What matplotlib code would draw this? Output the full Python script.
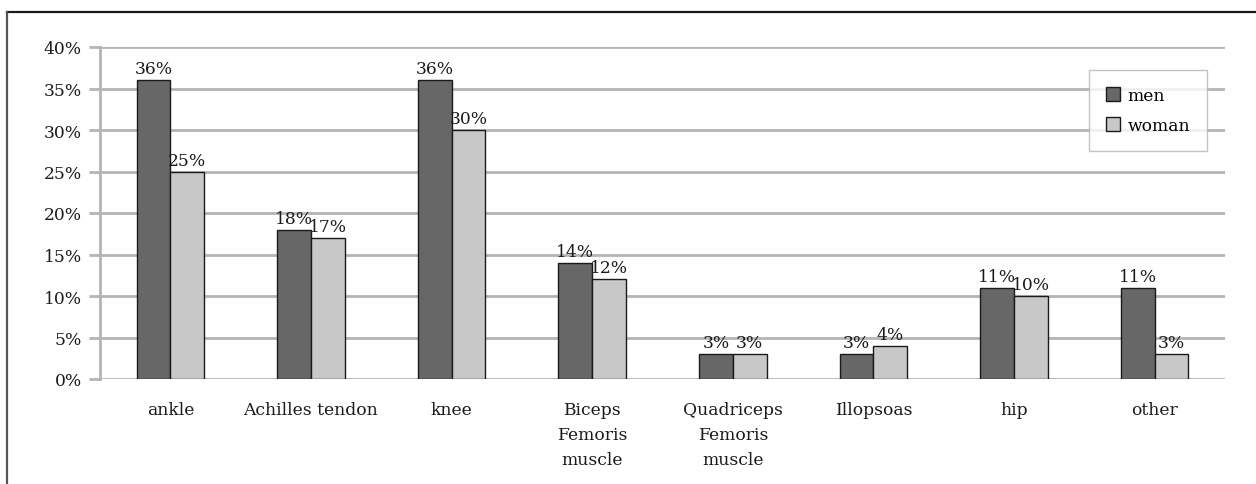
import matplotlib.pyplot as plt
import numpy as np
from matplotlib.lines import Line2D

categories = ['ankle', 'Achilles tendon', 'knee', 'Biceps\nFemoris\nmuscle',
              'Quadriceps\nFemoris\nmuscle', 'Illopsoas', 'hip', 'other']
men = [36, 18, 36, 14, 3, 3, 11, 11]
woman = [25, 17, 30, 12, 3, 4, 10, 3]
yticks = [0, 5, 10, 15, 20, 25, 30, 35, 40]

plt.rcParams['font.family'] = ['DejaVu Serif']
fs = 12.3

fig = plt.figure(figsize=(12.56, 4.85), dpi=100)
ax = fig.add_axes([100 / 1256, 1 - 380 / 485, 1125 / 1256, 332 / 485])

x = np.arange(len(categories))
w = 0.24
b1 = ax.bar(x - w / 2, men, w, color='#676767', edgecolor='#1a1a1a', linewidth=1, label='men', zorder=3)
b2 = ax.bar(x + w / 2, woman, w, color='#c8c8c8', edgecolor='#1a1a1a', linewidth=1, label='woman', zorder=3)

for bars, vals in ((b1, men), (b2, woman)):
    for r, v in zip(bars, vals):
        ax.text(r.get_x() + r.get_width() / 2, v + 0.35, '%d%%' % v,
                ha='center', va='bottom', fontsize=fs, color='#1a1a1a')

ax.set_xlim(-0.5, len(categories) - 0.5)
ax.set_ylim(0, 40)
ax.set_yticks(yticks)
ax.set_yticklabels(['%d%%' % t for t in yticks], fontsize=fs, color='#1a1a1a')
ax.set_xticks(x)
ax.set_xticklabels(categories, fontsize=fs, color='#1a1a1a', linespacing=1.6, va='top')
ax.tick_params(axis='x', length=0, pad=16)
ax.tick_params(axis='y', length=8, width=2, color='#b4b4b4', pad=5)

ax.yaxis.grid(True, color='#b4b4b4', linewidth=2)
ax.set_axisbelow(True)
for s in ['top', 'right', 'bottom']:
    ax.spines[s].set_visible(False)
ax.spines['left'].set_color('#b4b4b4')
ax.spines['left'].set_linewidth(2)

leg = ax.legend(loc='upper right', bbox_to_anchor=(1107 / 1125, 1 - 23 / 332),
                fontsize=fs, frameon=True, fancybox=False, edgecolor='#b4b4b4',
                handlelength=0.85, handleheight=0.85, handletextpad=0.4,
                borderpad=1.0, labelspacing=0.75, borderaxespad=0)
leg.get_frame().set_linewidth(1)

# outer frame (top and left edges only)
fig.add_artist(Line2D([7 / 1256, 1], [1 - 13 / 485, 1 - 13 / 485], color='#1a1a1a', linewidth=1.6))
fig.add_artist(Line2D([7 / 1256, 7 / 1256], [0, 1 - 13 / 485], color='#555555', linewidth=1.6))

fig.savefig('out.png', dpi=100, facecolor='white')
